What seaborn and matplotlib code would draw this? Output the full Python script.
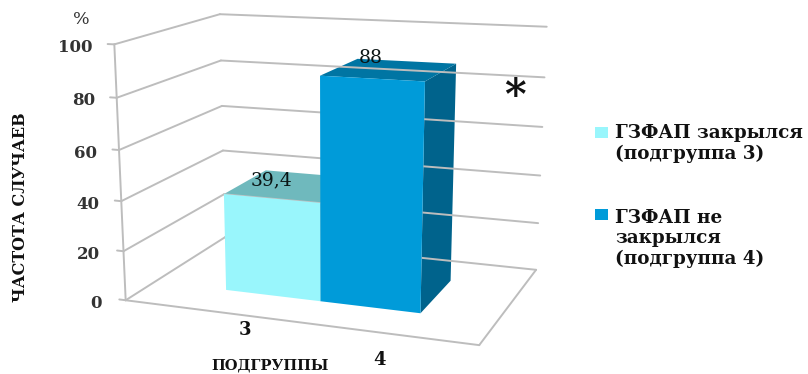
import numpy as np
import pandas as pd
import matplotlib
matplotlib.use("Agg")
import matplotlib.pyplot as plt
from matplotlib.patches import Rectangle
from matplotlib.transforms import Transform
import seaborn as sns

subgroups = ["3", "4"]
frequency = [39.4, 88]
legend_labels = ["ГЗФАП закрылся\n(подгруппа 3)", "ГЗФАП не\nзакрылся\n(подгруппа 4)"]
y_ticks = [0, 20, 40, 60, 80, 100]
front_colors = ["#99F6FC", "#009BD9"]
top_colors = ["#6FB9BD", "#0075A3"]
side_colors = ["#5E9EA3", "#00638C"]
grid_color = "#BDBDBD"
text_color = "#111111"
serif = "DejaVu Serif"

# Bar footprint inside the floor of the box
BAR_START, BAR_WIDTH = 0.224, 0.285
DEPTH_FRONT, DEPTH_BACK = 0.27, 0.72
X_A, X_B, X_C = BAR_START, BAR_START + BAR_WIDTH, BAR_START + 2 * BAR_WIDTH

# Camera: reference points (width, depth, height) and where they land on the canvas.
box_corners = [
    (0, 0, 0), (1, 0, 0), (0, 1, 0), (1, 1, 0), (0, 0, 1), (0, 1, 1), (1, 1, 1),
    (X_A, DEPTH_FRONT, 0), (X_B, DEPTH_FRONT, 0), (X_C, DEPTH_FRONT, 0), (X_C, DEPTH_BACK, 0),
    (X_B, DEPTH_FRONT, 0.88), (X_C, DEPTH_FRONT, 0.88), (X_B, DEPTH_BACK, 0.88), (X_C, DEPTH_BACK, 0.88),
    (X_A, DEPTH_FRONT, 0.394), (X_A, DEPTH_BACK, 0.394),
]
canvas_corners = [
    (125, 303), (479, 346), (228, 238), (538, 268), (114, 44), (225, 12), (548, 28),
    (228, 289), (322, 300), (422, 311), (449, 282),
    (322, 75), (426, 81), (355, 59), (454, 66),
    (226, 193), (252, 172),
]


def fit_camera(src, dst):
    rows, rhs = [], []
    for (x, y, z), (u, v) in zip(src, dst):
        rows.append([x, y, z, 1, 0, 0, 0, 0, -u * x, -u * y, -u * z])
        rows.append([0, 0, 0, 0, x, y, z, 1, -v * x, -v * y, -v * z])
        rhs += [u, v]
    return np.linalg.lstsq(np.array(rows, float), np.array(rhs, float), rcond=None)[0]


cam = fit_camera(box_corners, canvas_corners)


def project(x, y, value):
    z = np.asarray(value, float) / 100.0
    w = cam[8] * x + cam[9] * y + cam[10] * z + 1
    return (cam[0] * x + cam[1] * y + cam[2] * z + cam[3]) / w, (cam[4] * x + cam[5] * y + cam[6] * z + cam[7]) / w


def cat_to_width(c):
    return BAR_START + BAR_WIDTH * (np.asarray(c, float) + 0.5)


class FrontFace(Transform):
    """Maps (category position, value) onto the front plane of the bars."""
    input_dims = output_dims = 2
    has_inverse = False

    def transform_non_affine(self, values):
        values = np.asarray(values, float)
        u, v = project(cat_to_width(values[:, 0]), DEPTH_FRONT, values[:, 1])
        return np.column_stack([u, v])


sns.set_theme(style="white")
plt.rcParams["font.family"] = [serif, "DejaVu Sans"]

fig = plt.figure(figsize=(8.08, 3.74), dpi=100)
ax = fig.add_axes([0, 0, 1, 1])
ax.set_xlim(0, 808)
ax.set_ylim(374, 0)
ax.axis("off")


def seg(p, q, **kw):
    ax.plot([p[0], q[0]], [p[1], q[1]], color=grid_color, lw=1.4, solid_capstyle="round", **kw)


# Walls, floor and value axis
for t in y_ticks:
    seg(project(-0.02, 0, t), project(0, 0, t))
    seg(project(0, 0, t), project(0, 1, t))
    seg(project(0, 1, t), project(1, 1, t))
seg(project(0, 0, 0), project(0, 0, 100))
seg(project(0, 0, 0), project(1, 0, 0))
seg(project(1, 0, 0), project(1, 1, 0))

# Top and side faces of the bars
for i, val in enumerate(frequency):
    x0, x1 = cat_to_width(i - 0.5), cat_to_width(i + 0.5)
    top = [project(x0, DEPTH_FRONT, val), project(x1, DEPTH_FRONT, val),
           project(x1, DEPTH_BACK, val), project(x0, DEPTH_BACK, val)]
    side = [project(x1, DEPTH_FRONT, 0), project(x1, DEPTH_BACK, 0),
            project(x1, DEPTH_BACK, val), project(x1, DEPTH_FRONT, val)]
    ax.fill(*zip(*side), color=side_colors[i], lw=0)
    ax.fill(*zip(*top), color=top_colors[i], lw=0)

# Front faces come from seaborn, bent into perspective afterwards
bar_ax = fig.add_axes([0, 0, 1, 1], facecolor="none")
df = pd.DataFrame({"подгруппа": subgroups, "частота": frequency})
sns.barplot(data=df, x="подгруппа", y="частота", hue="подгруппа", palette=front_colors,
            width=1, saturation=1, legend=False, ax=bar_ax, linewidth=0)
bar_ax.axis("off")
front = FrontFace() + ax.transData
for patch in bar_ax.patches:
    patch.set_transform(front)
    patch.set_clip_on(False)

# Text sits in its own layer above the bars
tx = fig.add_axes([0, 0, 1, 1], facecolor="none")
tx.set_xlim(0, 808)
tx.set_ylim(374, 0)
tx.axis("off")

for t in y_ticks:
    yy = project(0, 0, t)[1]
    right = {0: 102, 20: 100, 40: 99, 60: 97, 80: 95, 100: 93}[t]
    tx.text(right, yy + 3, str(t), ha="right", va="center", fontsize=12, color="#333333", weight="bold")
tx.text(81, 19, "%", ha="center", va="center", fontsize=12.5, color="#333333")
tx.text(21, 207, "ЧАСТОТА СЛУЧАЕВ", rotation=90, ha="center", va="center", fontsize=11.5, weight="bold", color=text_color)
tx.text(270, 366, "ПОДГРУППЫ", ha="center", va="center", fontsize=10.5, weight="bold", color=text_color)
tx.text(245, 330, subgroups[0], ha="center", va="center", fontsize=13, weight="bold", color=text_color)
tx.text(379, 360, subgroups[1], ha="center", va="center", fontsize=13, weight="bold", color=text_color)

# Value labels
label_pos = [(272, 180), (371, 58)]
for (lx, ly), val in zip(label_pos, frequency):
    tx.text(lx, ly, f"{val:g}".replace(".", ","), ha="center", va="center", fontsize=13.5, color="#0A1414")
tx.text(515, 97, "*", ha="center", va="center", fontsize=30, weight="bold", color=text_color)

# Legend
square_tops = [127, 209]
text_tops = [132, 217]
for top_y, txt_y, color, label in zip(square_tops, text_tops, front_colors, legend_labels):
    tx.add_patch(Rectangle((595, top_y), 12.5, 11, facecolor=color, edgecolor="none"))
    tx.text(615, txt_y - 8, label, ha="left", va="top", fontsize=13.2, weight="bold",
            color=text_color, linespacing=1.16)

fig.savefig("out.png", dpi=100)
